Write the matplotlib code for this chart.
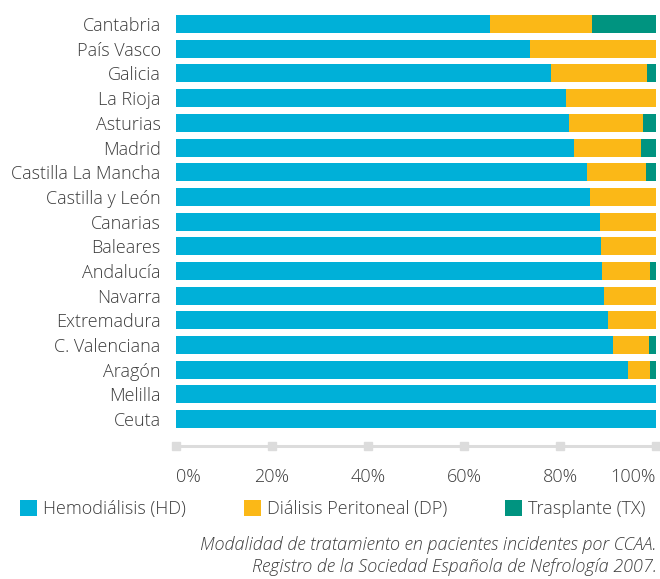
import numpy as np
import matplotlib
matplotlib.use("Agg")
import matplotlib.pyplot as plt
from matplotlib.patches import Patch

# Datos (porcentaje por modalidad)
regiones = ["Cantabria", "País Vasco", "Galicia", "La Rioja", "Asturias", "Madrid",
            "Castilla La Mancha", "Castilla y León", "Canarias", "Baleares", "Andalucía",
            "Navarra", "Extremadura", "C. Valenciana", "Aragón", "Melilla", "Ceuta"]
hd = [65.4, 73.8, 78.2, 81.3, 81.9, 83.0, 85.7, 86.3, 88.4, 88.6, 88.8,
      89.2, 90.0, 91.1, 94.2, 100.0, 100.0]
dp = [21.3, 26.2, 19.9, 18.7, 15.4, 13.9, 12.2, 13.7, 11.6, 11.4, 10.0,
      10.8, 10.0, 7.5, 4.6, 0.0, 0.0]
tx = [13.3, 0.0, 1.9, 0.0, 2.7, 3.1, 2.1, 0.0, 0.0, 0.0, 1.2,
      0.0, 0.0, 1.4, 1.2, 0.0, 0.0]
series = ["Hemodiálisis (HD)", "Diálisis Peritoneal (DP)", "Trasplante (TX)"]
ticks = [0, 20, 40, 60, 80, 100]

colores = ["#00B0D8", "#FBB817", "#009480"]
gris_txt = "#3c3c3c"

plt.rcParams["font.family"] = ["Open Sans", "DejaVu Sans"]
plt.rcParams["font.weight"] = "light"

fig = plt.figure(figsize=(6.6, 5.79), dpi=100)
ax = fig.add_axes([176 / 660, 1 - 446 / 579, 480 / 660, 434 / 579])

y = np.arange(len(regiones))
izq = np.zeros(len(regiones))
for vals, col in zip([hd, dp, tx], colores):
    ax.barh(y, vals, left=izq, height=0.73, color=col, linewidth=0)
    izq = izq + np.array(vals)

y_eje = 17.09
ax.set_xlim(0, 100)
ax.set_ylim(y_eje, -0.49)

for s in ["top", "right", "left"]:
    ax.spines[s].set_visible(False)
ax.spines["bottom"].set_color("#dcdcdc")
ax.spines["bottom"].set_linewidth(2.2)
ax.plot(ticks, [y_eje] * len(ticks), "s", color="#dcdcdc", ms=6, clip_on=False, zorder=5)

ax.set_yticks(y)
ax.set_yticklabels(regiones, fontsize=13, color=gris_txt)
ax.tick_params(axis="y", length=0, pad=11)
ax.set_xticks(ticks)
ax.set_xticklabels([f"{t}%" for t in ticks], fontsize=13, color=gris_txt)
ax.tick_params(axis="x", length=0, pad=16)
lbls = ax.get_xticklabels()
lbls[0].set_ha("left")
lbls[-1].set_ha("right")

handles = [Patch(facecolor=c, edgecolor="none") for c in colores]
fig.legend(handles, series, loc="center left", bbox_to_anchor=(20 / 660, 1 - 509 / 579),
           ncol=3, frameon=False, fontsize=13, handlelength=0.95, handleheight=0.95,
           handletextpad=0.33, columnspacing=3.2, borderpad=0, borderaxespad=0,
           labelcolor=gris_txt)

fig.text(657 / 660, 1 - 545 / 579, "Modalidad de tratamiento en pacientes incidentes por CCAA.",
         ha="right", va="center", style="italic", fontsize=13, color=gris_txt)
fig.text(657 / 660, 1 - 567 / 579, "Registro de la Sociedad Española de Nefrología 2007.",
         ha="right", va="center", style="italic", fontsize=13, color=gris_txt)

fig.savefig("out.png", dpi=100)
